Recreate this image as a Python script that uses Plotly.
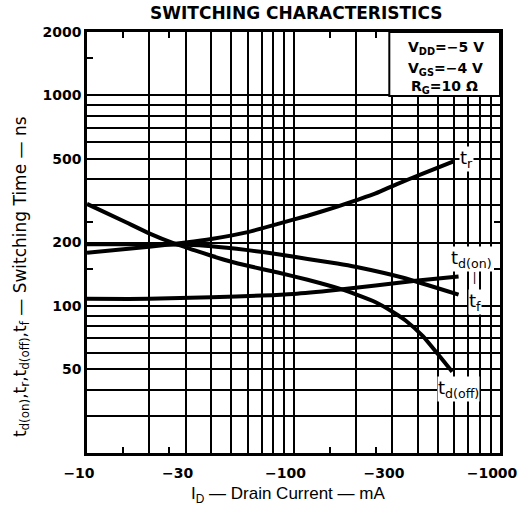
import numpy as np
import plotly.graph_objects as go

# ---- data (I_D in mA, times in ns) ----
tr_id = [-10, -20, -30, -40, -60, -85, -117, -163, -202, -250, -315, -420, -596]
tr_ns = [179, 191, 200, 208, 224, 246, 268, 296, 318, 342, 378, 424, 486]

tdon_id = [-10, -20, -40, -70, -100, -160, -250, -400, -630]
tdon_ns = [108, 108, 110, 112, 114, 119, 125, 132, 138]

tf_id = [-10, -20, -30, -40, -60, -84, -117, -163, -202, -340, -630]
tf_ns = [196, 196, 195, 192, 184, 176, 167, 159, 153, 136, 113]

tdoff_id = [-10, -15, -20, -26, -33, -40, -50, -60, -84, -117, -170, -202, -250, -300, -350, -422, -500, -587]
tdoff_ns = [305, 253, 221, 199, 184, 173, 162, 155, 144, 133, 120, 113, 104, 94, 85, 72, 59, 48.6]

x_grid = [10, 20, 30, 40, 50, 60, 70, 80, 90, 100, 200, 300, 400, 500, 600, 700, 800, 900, 1000]
x_labels = {10: "\u221210", 30: "\u221230", 100: "\u2212100", 300: "\u2212300", 1000: "\u22121000"}
y_grid = [20, 30, 40, 50, 60, 70, 80, 90, 100, 200, 300, 400, 500, 600, 700, 800, 900, 1000, 2000]
y_labels = {50: "50", 100: "100", 200: "200", 500: "500", 1000: "1000", 2000: "2000"}
x_minor = [15, 25, 150, 250]
y_minor = [150, 250, 1500]

series = [
    ("t<sub>r</sub>", tr_id, tr_ns),
    ("t<sub>d(on)</sub>", tdon_id, tdon_ns),
    ("t<sub>f</sub>", tf_id, tf_ns),
    ("t<sub>d(off)</sub>", tdoff_id, tdoff_ns),
]

fig = go.Figure()
for name, xid, yv in series:
    fig.add_trace(go.Scatter(
        x=np.abs(np.array(xid, dtype=float)), y=yv, mode="lines", name=name,
        line=dict(color="black", width=4, shape="spline", smoothing=0.5),
        showlegend=False, hoverinfo="skip"))

tick_font = dict(family="DejaVu Sans", size=14, color="black", weight="bold")

fig.update_xaxes(
    type="log", range=[1, 3],
    tickvals=x_grid, ticktext=[x_labels.get(v, "") for v in x_grid],
    ticks="", showgrid=True, gridcolor="black", gridwidth=1.5,
    showline=True, linecolor="black", linewidth=2.5, mirror="ticks",
    tickfont=tick_font, zeroline=False, ticklabeloverflow="allow",
    ticklabelshift=-8, ticklabelstandoff=5,
    minor=dict(tickvals=x_minor, ticks="inside", ticklen=6, tickwidth=1.5,
               tickcolor="black", showgrid=False),
)
fig.update_yaxes(
    type="log", range=[np.log10(20), np.log10(2000)],
    tickvals=y_grid, ticktext=[y_labels.get(v, "") for v in y_grid],
    ticks="", showgrid=True, gridcolor="black", gridwidth=1.5,
    showline=True, linecolor="black", linewidth=2.5, mirror="ticks",
    tickfont=tick_font, zeroline=False, ticklabeloverflow="allow",
    minor=dict(tickvals=y_minor, ticks="inside", ticklen=6, tickwidth=1.5,
               tickcolor="black", showgrid=False),
)

ann = []
# curve labels anchored at each curve's last point
lab_font = dict(family="DejaVu Sans", size=18, color="black")
def end_of(xid, yv):
    return np.log10(abs(xid[-1])), np.log10(yv[-1])

x, y = end_of(tr_id, tr_ns)
ann.append(dict(x=x, y=y, xref="x", yref="y", text="t<sub>r</sub>", showarrow=False,
                xanchor="left", yanchor="middle", xshift=5, yshift=2, font=lab_font,
                bgcolor="white", borderpad=0))
x, y = end_of(tdon_id, tdon_ns)
ann.append(dict(x=x, y=y, xref="x", yref="y", text="t<sub>d(on)</sub>", showarrow=False,
                xanchor="center", yanchor="bottom", xshift=13, yshift=4, font=lab_font,
                bgcolor="white", borderpad=0))
ann.append(dict(x=x, y=y, xref="x", yref="y", text="|", showarrow=False,
                xanchor="center", yanchor="middle", xshift=16, yshift=-1,
                font=dict(family="Liberation Sans", size=12, color="black"),
                bgcolor="white", borderpad=0))
x, y = end_of(tf_id, tf_ns)
ann.append(dict(x=x, y=y, xref="x", yref="y", text="t<sub>f</sub>", showarrow=False,
                xanchor="left", yanchor="top", xshift=9, yshift=6, font=lab_font,
                bgcolor="white", borderpad=0))
x, y = end_of(tdoff_id, tdoff_ns)
ann.append(dict(x=x, y=y, xref="x", yref="y", text="t<sub>d(off)</sub>", showarrow=False,
                xanchor="center", yanchor="top", xshift=6, yshift=-4, font=lab_font,
                bgcolor="white", borderpad=0))

# condition box text
cond_font = dict(family="DejaVu Sans", size=14, color="black", weight="bold")
for txt, yy, xx in [("V<sub>DD</sub>=\u22125 V", 0.962, 0.772),
                    ("V<sub>GS</sub>=\u22124 V", 0.913, 0.772),
                    ("R<sub>G</sub>=10 \u03a9", 0.869, 0.780)]:
    ann.append(dict(x=xx, y=yy, xref="paper", yref="paper", text=txt, showarrow=False,
                    xanchor="left", yanchor="middle", font=cond_font))

# titles
ann.append(dict(x=0.507, y=1.044, xref="paper", yref="paper",
                text="SWITCHING CHARACTERISTICS", showarrow=False,
                xanchor="center", yanchor="middle",
                font=dict(family="DejaVu Sans", size=17, color="black", weight="bold")))
ann.append(dict(x=0.486, y=-0.10, xref="paper", yref="paper",
                text="I<sub>D</sub> \u2014 Drain Current \u2014 mA", showarrow=False,
                xanchor="center", yanchor="middle",
                font=dict(family="Liberation Sans", size=17, color="black")))
ann.append(dict(x=-0.16, y=0.42, xref="paper", yref="paper", textangle=-90,
                text="t<sub>d(on)</sub>,t<sub>r</sub>,t<sub>d(off)</sub>,t<sub>f</sub> \u2014 Switching Time \u2014 ns",
                showarrow=False, xanchor="center", yanchor="middle",
                font=dict(family="DejaVu Sans", size=17, color="black")))

fig.update_layout(
    width=530, height=517,
    margin=dict(l=87, r=25, t=32, b=64),
    paper_bgcolor="white", plot_bgcolor="white",
    annotations=ann,
    shapes=[dict(type="rect", xref="paper", yref="paper", x0=0.732, x1=1.0, y0=0.848, y1=1.0,
                 fillcolor="white", line=dict(color="black", width=2), layer="above")],
)

fig.write_html("out.html")
